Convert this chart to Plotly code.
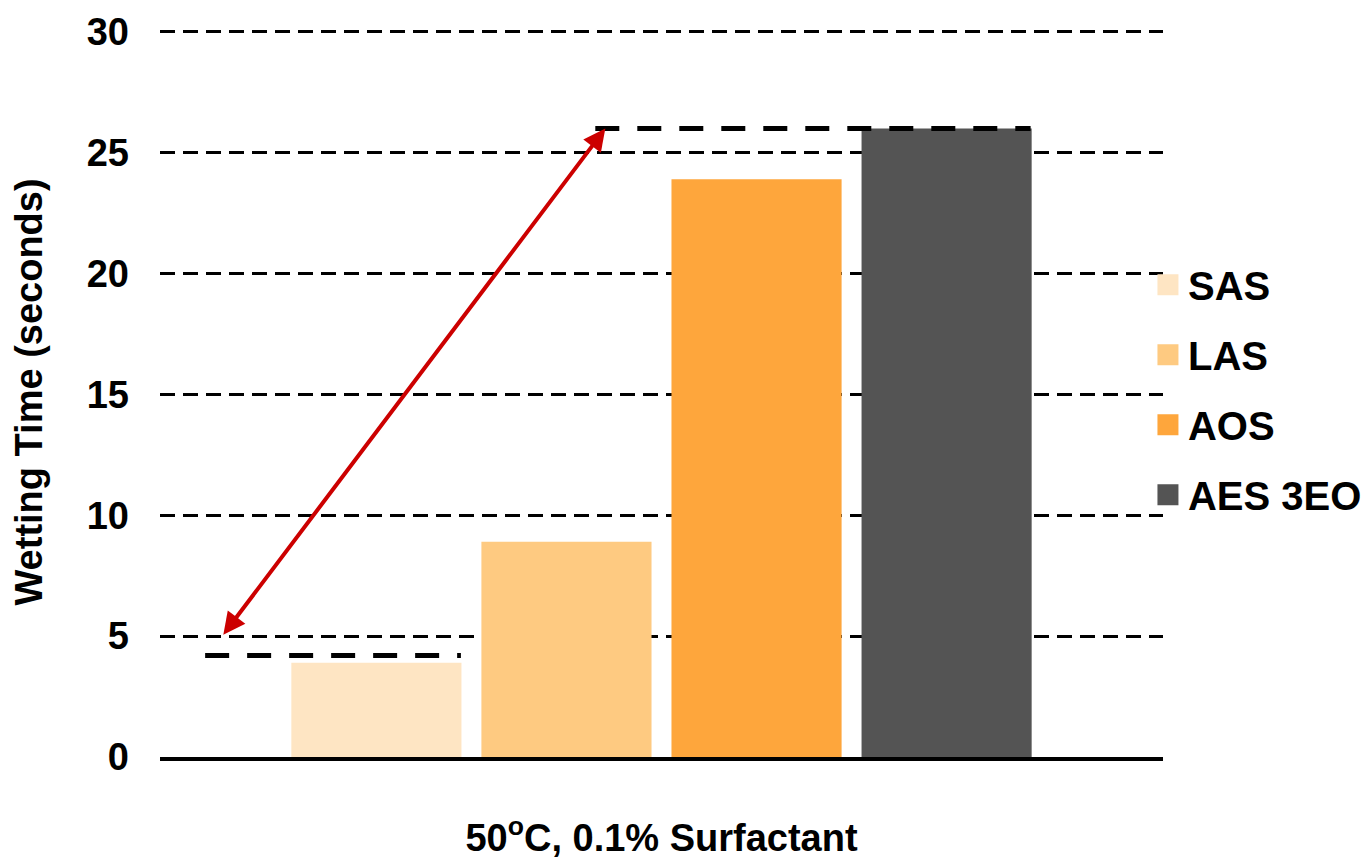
import plotly.graph_objects as go

# Wetting time of four surfactants at 50 °C, 0.1 % concentration
category = ["50<sup>o</sup>C, 0.1% Surfactant"]
surfactants = ["SAS", "LAS", "AOS", "AES 3EO"]
wetting_time = [3.9, 8.9, 23.9, 26.0]
bar_colors = ["#FEE5C3", "#FECA81", "#FEA63C", "#545454"]

# Reference levels (lowest and highest wetting time) and the range arrow
ref_levels = [4.2, 26.0]
ref_spans = [(0.045, 0.300), (0.434, 0.868)]
arrow_from = (0.062, 5.0)
arrow_to = (0.444, 26.0)

y_ticks = [0, 5, 10, 15, 20, 25, 30]

FONT = "Liberation Sans, Arial"

fig = go.Figure()

for name, val, col in zip(surfactants, wetting_time, bar_colors):
    fig.add_trace(go.Bar(
        x=category, y=[val], name=name,
        marker=dict(color=col, line=dict(width=0)),
        showlegend=False,
    ))
    # legend entry with a larger square swatch
    fig.add_trace(go.Scatter(
        x=[None], y=[None], mode="markers", name=name,
        legendgroup=name,
        marker=dict(symbol="square", size=16, color=col,
                    line=dict(color=col, width=5)),
    ))

for lvl, (x0, x1) in zip(ref_levels, ref_spans):
    fig.add_shape(type="line", xref="x domain", yref="y",
                  x0=x0, x1=x1, y0=lvl, y1=lvl,
                  line=dict(color="black", width=5, dash="24px,18px"),
                  layer="above")

fig.add_annotation(
    xref="x domain", yref="y", axref="x domain", ayref="y",
    x=arrow_to[0], y=arrow_to[1], ax=arrow_from[0], ay=arrow_from[1],
    text="", showarrow=True, arrowside="end+start",
    arrowhead=2, startarrowhead=2, arrowsize=1.1, startarrowsize=1.1,
    arrowwidth=4, arrowcolor="#CC0000", standoff=0, startstandoff=0,
)

fig.update_layout(
    width=1367, height=861,
    margin=dict(l=160, r=204, t=27, b=104, autoexpand=False),
    paper_bgcolor="white", plot_bgcolor="white",
    barmode="group", bargap=0.242, bargroupgap=0.105,
    legend=dict(
        x=0.985, y=0.503, xanchor="left", yanchor="middle",
        font=dict(family=FONT, size=40, color="black", weight="bold"),
        tracegroupgap=15, bgcolor="rgba(0,0,0,0)",
    ),
    xaxis=dict(
        showgrid=False, showline=True, linecolor="black", linewidth=4,
        ticks="", ticklabelstandoff=44,
        tickfont=dict(family=FONT, size=38, color="black", weight="bold"),
    ),
    yaxis=dict(
        range=[0, 30.2], tickvals=y_ticks, ticktext=[str(v) for v in y_ticks],
        showgrid=True, gridcolor="black", gridwidth=2.5, griddash="15px,8px",
        zeroline=False, showline=False, ticks="", ticklabelstandoff=30,
        tickfont=dict(family=FONT, size=38, color="black", weight="bold"),
        title=dict(text="Wetting Time (seconds)", standoff=32,
                   font=dict(family=FONT, size=38, color="black", weight="bold")),
    ),
)

fig.write_html("out.html")
